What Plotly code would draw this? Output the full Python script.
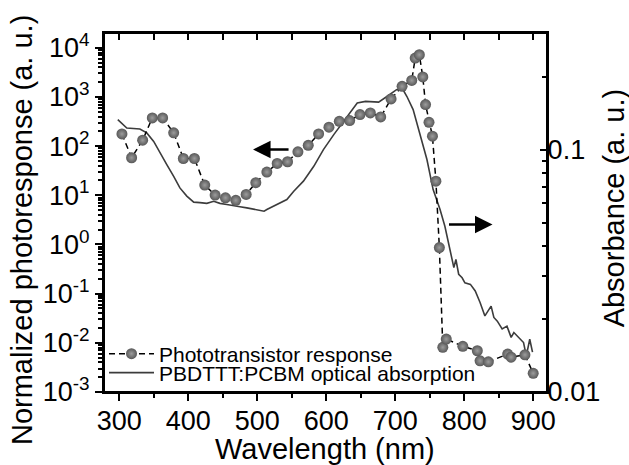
import plotly.graph_objects as go

# Phototransistor response (left axis)
resp_wl = [304, 318, 334, 348, 363, 379, 393, 409, 424, 439, 454, 469, 484, 498, 514,
           529, 544, 559, 574, 589, 604, 619, 634, 649, 664, 679, 694, 710, 724, 729,
           735, 740, 744, 749, 754, 759, 764, 769, 774, 798, 819, 823, 835, 863, 868,
           888, 900]
resp_val = [177, 58, 132, 375, 375, 186, 56, 56, 16.1, 10.1, 8.9, 7.9, 10.4, 18.0, 29.6,
            44.4, 48.1, 76.6, 104, 177, 242, 320, 330, 438, 473, 393, 910, 1640, 2170, 6180,
            7210, 2550, 698, 305, 159, 19.4, 0.865, 0.0081, 0.0119, 0.0085, 0.0069, 0.0043,
            0.0041, 0.0059, 0.0051, 0.0057, 0.0024]

# PBDTTT:PCBM optical absorption (right axis)
abs_wl = [298, 311, 330, 340, 350, 359, 369, 379, 388, 398, 408, 417, 427, 437, 446, 456,
          466, 475, 485, 499, 510, 514, 529, 543, 553, 567, 582, 596, 611, 625, 637, 645,
          657, 676, 688, 702, 710, 717, 726, 736, 746, 755, 765, 772, 782, 785, 788, 792,
          797, 801, 809, 816, 823, 830, 839, 843, 848, 855, 862, 868, 872, 879, 886, 890,
          895, 899]
abs_val = [0.133, 0.1227, 0.1216, 0.1172, 0.1081, 0.0968, 0.0867, 0.0776, 0.0695, 0.0643,
           0.0607, 0.0604, 0.0600, 0.0612, 0.0600, 0.0594, 0.0585, 0.0581, 0.0575, 0.0566,
           0.0557, 0.0566, 0.0594, 0.0622, 0.0673, 0.0741, 0.0853, 0.100, 0.1153, 0.1306,
           0.1462, 0.1556, 0.1581, 0.1570, 0.1656, 0.1766, 0.1795, 0.1656, 0.1462, 0.1153,
           0.0910, 0.0684, 0.0566, 0.0483, 0.0352, 0.0326, 0.0352, 0.0306, 0.0296, 0.0282,
           0.0278, 0.0261, 0.0234, 0.0206, 0.0226, 0.0203, 0.0196, 0.0182, 0.0187, 0.0168,
           0.0176, 0.0168, 0.0160, 0.0141, 0.0165, 0.0146]

x_ticks = [300, 400, 500, 600, 700, 800, 900]
x_minor = [350, 450, 550, 650, 750, 850]
x_top_ticks = [300, 350, 400, 450, 500, 550, 600, 650, 700, 750, 800, 850, 900]
left_tickvals = [1e-3, 1e-2, 1e-1, 1e0, 1e1, 1e2, 1e3, 1e4]
left_ticktext = ["10<sup>-3</sup>", "10<sup>-2</sup>", "10<sup>-1</sup>", "10<sup>0</sup>",
                 "10<sup>1</sup>", "10<sup>2</sup>", "10<sup>3</sup>", "10<sup>4</sup>"]
left_minor = [m * d for d in [1e-3, 1e-2, 1e-1, 1e0, 1e1, 1e2, 1e3, 1e4]
              for m in range(2, 10)]
right_tickvals = [0.01, 0.1]
right_ticktext = ["0.01", "0.1"]
right_minor = [0.02, 0.03, 0.04, 0.05, 0.06, 0.07, 0.08, 0.09, 0.2, 0.3]

FONT = "Liberation Sans, Arial, sans-serif"
XR = [278, 920]
XDOM = [0, 443 / 448]
YDOM = [10 / 369, 1]

fig = go.Figure()
fig.add_trace(go.Scatter(
    x=abs_wl, y=abs_val, mode="lines", name="PBDTTT:PCBM optical absorption",
    line=dict(color="#3c3c3c", width=1.6), xaxis="x", yaxis="y", legend="legend2"))
fig.add_trace(go.Scatter(
    x=resp_wl, y=resp_val, mode="lines+markers", name="Phototransistor response",
    line=dict(color="black", width=1.5, dash="6px,4px"),
    marker=dict(size=11, color="#585858", line=dict(width=0),
                gradient=dict(type="radial", color="#9c9c9c")),
    xaxis="x", yaxis="y2", legend="legend"))
# empty helper traces so the label-only axes get drawn
fig.add_trace(go.Scatter(x=[], y=[], xaxis="x3", yaxis="y3", showlegend=False,
                         hoverinfo="skip"))
fig.add_trace(go.Scatter(x=[], y=[], xaxis="x2", yaxis="y", showlegend=False,
                         hoverinfo="skip"))

base = dict(showgrid=False, zeroline=False, linecolor="black", linewidth=2,
            tickcolor="black", tickwidth=2, automargin=False,
            tickfont=dict(family=FONT, size=27, color="black"))

fig.update_layout(
    width=629, height=465,
    margin=dict(l=104, r=77, t=33, b=63),
    paper_bgcolor="white", plot_bgcolor="white",
    font=dict(family=FONT, color="black"),
    xaxis=dict(range=XR, domain=XDOM, tickmode="array", tickvals=x_ticks,
               ticks="outside", ticklen=7, anchor="y", showline=True,
               showticklabels=False,
               minor=dict(tickmode="array", tickvals=x_minor, ticks="outside", ticklen=4,
                          tickwidth=2, tickcolor="black"),
               **base),
    xaxis2=dict(range=XR, domain=XDOM, overlaying="x", side="top", anchor="y",
                tickmode="array", tickvals=x_top_ticks, ticks="inside", ticklen=7,
                showline=True, showticklabels=False, **base),
    xaxis3=dict(range=XR, domain=XDOM, overlaying="x", side="bottom", anchor="free",
                position=0, tickmode="array", tickvals=x_ticks, ticks="",
                showline=False, showticklabels=True, **base),
    yaxis=dict(type="log", range=[-2, -0.519], domain=YDOM, side="right", anchor="x",
               tickmode="array", tickvals=right_tickvals, ticks="inside", ticklen=7,
               showline=True, showticklabels=False,
               minor=dict(tickmode="array", tickvals=right_minor, ticks="inside",
                          ticklen=5, tickwidth=2, tickcolor="black"),
               **base),
    yaxis2=dict(type="log", range=[-3, 4.3], side="left", overlaying="y", anchor="x",
                tickmode="array", tickvals=left_tickvals, ticktext=left_ticktext,
                ticks="outside", ticklen=7, showline=True,
                minor=dict(tickmode="array", tickvals=left_minor, ticks="outside",
                           ticklen=4, tickwidth=1.5, tickcolor="black"),
                **base),
    yaxis3=dict(type="log", range=[-2, -0.519], overlaying="y", side="right",
                anchor="free", position=0.988, tickmode="array", tickvals=right_tickvals,
                ticktext=right_ticktext, ticks="", showline=False, showticklabels=True,
                **base),
    legend=dict(x=0.0, y=0.130, xanchor="left", yanchor="middle",
                bgcolor="rgba(0,0,0,0)", font=dict(family=FONT, size=21, color="black"),
                itemwidth=45, borderwidth=0),
    legend2=dict(x=0.0, y=0.0786, xanchor="left", yanchor="middle",
                 bgcolor="rgba(0,0,0,0)", font=dict(family=FONT, size=21, color="black"),
                 itemwidth=45, borderwidth=0),
    showlegend=True,
    shapes=[dict(type="rect", xref="paper", yref="paper", x0=XDOM[0], x1=XDOM[1],
                 y0=YDOM[0], y1=YDOM[1], line=dict(color="black", width=2),
                 fillcolor="rgba(0,0,0,0)", layer="above")],
    annotations=[
        dict(x=494, y=1.93, xref="x", yref="y2", ax=37, ay=0, axref="pixel",
             ayref="pixel", text="", showarrow=True, arrowhead=2, arrowsize=1.4,
             arrowwidth=2.5, arrowcolor="black", standoff=0),
        dict(x=841, y=-1.309, xref="x", yref="y", ax=-45, ay=0, axref="pixel",
             ayref="pixel", text="", showarrow=True, arrowhead=2, arrowsize=1.4,
             arrowwidth=2.5, arrowcolor="black", standoff=0),
        dict(text="Wavelength (nm)", xref="paper", yref="paper", x=0.4934, y=-0.128,
             xanchor="center", yanchor="middle", showarrow=False,
             font=dict(family=FONT, size=29, color="black")),
        dict(text="Normalized photoresponse (a. u.)", textangle=-90, xref="paper",
             yref="paper", x=-0.183, y=0.466, xanchor="center", yanchor="middle",
             showarrow=False, font=dict(family=FONT, size=29, color="black")),
        dict(text="Absorbance (a. u.)", textangle=-90, xref="paper",
             yref="paper", x=1.138, y=0.527, xanchor="center", yanchor="middle",
             showarrow=False, font=dict(family=FONT, size=29, color="black")),
    ],
)

fig.write_html("out.html")
